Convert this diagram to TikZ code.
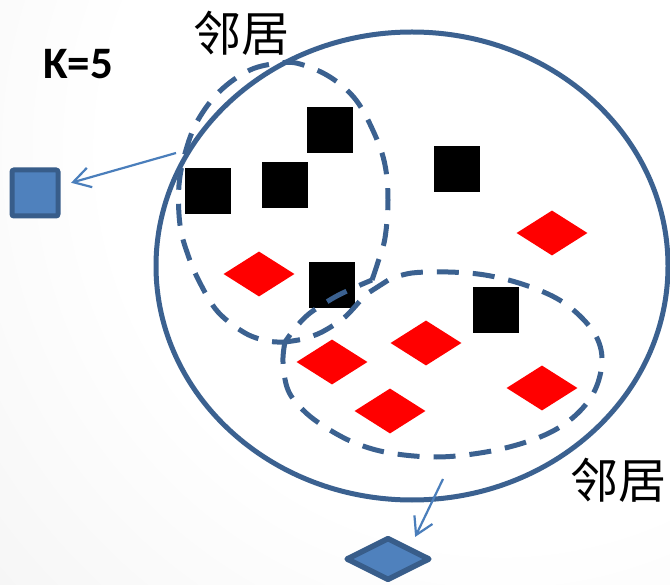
\documentclass[tikz,border=0pt]{standalone}
\usepackage{fontspec}
\newfontfamily\cjk{Noto Sans CJK SC}
\newfontfamily\calib{Carlito}
\usetikzlibrary{shapes.geometric,arrows.meta}
\definecolor{outl}{RGB}{59,97,144}
\definecolor{bfill}{RGB}{79,129,189}
\definecolor{bedge}{RGB}{56,93,138}
\definecolor{arr}{RGB}{74,126,187}
\pgfdeclareradialshading{bgshade}{\pgfpoint{0bp}{0bp}}{color(0bp)=(white); color(14bp)=(white); color(50bp)=(black!13); color(100bp)=(black!13)}
\begin{document}
\begin{tikzpicture}[x=1pt,y=-1pt,
  blk/.style={rectangle, fill=black, minimum size=46pt, inner sep=0pt},
  reddm/.style={diamond, fill=red, minimum width=71pt, minimum height=45pt, inner sep=0pt},
  dashline/.style={draw=outl, line width=5pt, dash pattern=on 22pt off 14pt},
  arrline/.style={draw=arr, line width=2.2pt, -{Straight Barb[length=17pt,width=20pt]}},
  lbl/.style={inner sep=0pt}]
\useasboundingbox (0,0) rectangle (670,585);
\begin{scope}
  \clip (0,0) rectangle (670,585);
  \shade[shading=bgshade] (-200,-550) rectangle (1200,850);
\end{scope}
% big circle fill
\fill[white] (412,266) ellipse [x radius=256, y radius=234];
% black squares
\node[blk] (s1) at (329.5,130.5) {};
\node[blk] (s2) at (284.5,185) {};
\node[blk] (s3) at (208,191.5) {};
\node[blk] (s4) at (457,169) {};
\node[blk] (s5) at (332,285) {};
\node[blk] (s6) at (496,310) {};
% red diamonds
\node[reddm] (d1) at (259,274) {};
\node[reddm] (d2) at (552,233) {};
\node[reddm] (d3) at (426,343) {};
\node[reddm] (d4) at (332,362) {};
\node[reddm] (d5) at (390,411) {};
\node[reddm] (d6) at (542,388) {};
% dashed neighbourhoods
\draw[dashline] plot[smooth, tension=0.6] coordinates {(372,280) (378,262) (385,238) (388,200) (385,165) (375,135) (356,100) (330,77) (300,64) (280,63) (250,70) (220,91) (198,120) (186,150) (179,185) (180,225) (188,255) (200,283) (218,312) (245,333) (268,341) (285,342)} -- plot[smooth] coordinates {(285,342) (296,327) (310,313) (335,297) (358,286) (372,280)};
\draw[dashline] plot[smooth, tension=0.6] coordinates {(285,342) (283,362) (288,390) (303,410) (325,427) (355,443) (390,453) (436,457) (480,453) (520,444) (553,431) (578,413) (595,390) (602,362) (597,338) (580,316) (556,298) (522,284) (485,275) (448,272) (412,273) (390,279)} -- (365,295) -- plot[smooth] coordinates {(365,295) (345,317) (322,332) (303,339) (285,342)};
% big circle outline
\draw[outl, line width=5pt] (412,266) ellipse [x radius=256, y radius=234];
% query points
\node[draw=bedge, fill=bfill, line width=5pt, rounded corners=2pt, minimum size=46pt, inner sep=0pt] (bsq) at (35,193) {};
\node[diamond, draw=bedge, fill=bfill, line width=5.5pt, line join=round, minimum width=84pt, minimum height=43pt, inner sep=0pt] (bdm) at (388,559) {};
% arrows
\coordinate (a1) at (176,153);
\draw[arrline, shorten >=11pt] (a1) -- (bsq);
\coordinate (a2) at (443,479);
\draw[arrline, shorten >=11pt] (a2) -- (bdm.north east);
% labels
\node[lbl, font=\calib\bfseries\fontsize{45pt}{50pt}\selectfont] (k) at (78,64) {K=5};
\node[lbl, font=\cjk\fontsize{48pt}{52pt}\selectfont] (n1) at (241,33) {邻居};
\node[lbl, font=\cjk\fontsize{48pt}{52pt}\selectfont] (n2) at (618,480) {邻居};
\end{tikzpicture}
\end{document}
